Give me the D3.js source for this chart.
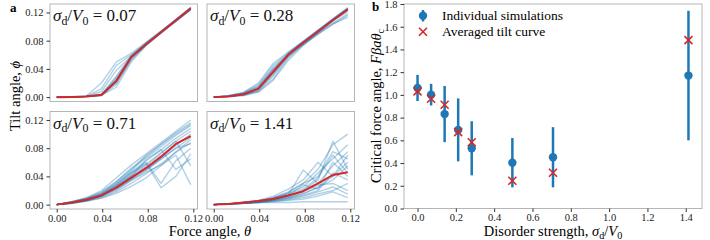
<!DOCTYPE html>
<html>
<head>
<meta charset="utf-8">
<script src="https://cdn.jsdelivr.net/npm/d3@7"></script>
<style>
    body { margin: 0; background: #fff; }
    svg { display: block; font-family: "Liberation Serif", "DejaVu Serif", serif; }
    .tick text { font-family: "Liberation Serif", "DejaVu Serif", serif; font-size: 10.5px; fill: #222; }
    .tick line { stroke: #333; }
</style>
</head>
<body>
<svg id="fig" width="710" height="240"></svg>
<script>
(function (window, d3) {
    "use strict";

    // force angle grid (0.75 deg steps, in rad)
    var thetaGrid = [0, 0.0131, 0.0262, 0.0393, 0.0524, 0.0655, 0.0786, 0.0917, 0.1047, 0.1178];
    var sigmaLabels = ["0.07", "0.28", "0.71", "1.41"];
    var tiltTicks = [0, 0.04, 0.08, 0.12];

    // averaged tilt curves
    var meanTilt007 = [0, 0.0003, 0.001, 0.003, 0.023, 0.057, 0.075, 0.092, 0.109, 0.126];
    var meanTilt028 = [0, 0.001, 0.004, 0.012, 0.036, 0.060, 0.077, 0.093, 0.109, 0.124];
    var meanTilt071 = [0, 0.003, 0.007, 0.013, 0.024, 0.038, 0.052, 0.068, 0.086, 0.097];
    var meanTilt141 = [0, 0.001, 0.003, 0.005, 0.008, 0.013, 0.019, 0.030, 0.042, 0.046];

    // individual simulations
    var runsTilt007 = [
        [0, 0, 0.001, 0.003, 0.024, 0.057, 0.075, 0.092, 0.108, 0.125],
        [0, 0, 0.001, 0.004, 0.030, 0.059, 0.076, 0.093, 0.109, 0.126],
        [0, 0, 0.001, 0.012, 0.045, 0.060, 0.077, 0.093, 0.110, 0.127],
        [0, 0, 0.002, 0.020, 0.050, 0.062, 0.078, 0.094, 0.110, 0.127],
        [0, 0, 0.001, 0.002, 0.018, 0.052, 0.074, 0.091, 0.108, 0.124],
        [0, 0, 0.001, 0.003, 0.014, 0.050, 0.073, 0.091, 0.107, 0.124],
        [0, 0, 0.001, 0.003, 0.026, 0.056, 0.075, 0.092, 0.109, 0.126],
        [0, 0, 0.001, 0.008, 0.038, 0.058, 0.076, 0.093, 0.109, 0.126],
        [0, 0, 0.001, 0.003, 0.022, 0.055, 0.075, 0.092, 0.108, 0.125],
        [0, 0, 0.001, 0.003, 0.028, 0.057, 0.076, 0.092, 0.109, 0.125],
        [0, 0, 0.001, 0.004, 0.020, 0.054, 0.074, 0.091, 0.108, 0.124],
        [0, 0, 0.001, 0.003, 0.024, 0.058, 0.076, 0.093, 0.110, 0.127]
    ];
    var runsTilt028 = [
        [0, 0.001, 0.004, 0.012, 0.036, 0.061, 0.078, 0.094, 0.110, 0.125],
        [0, 0.002, 0.007, 0.020, 0.048, 0.064, 0.079, 0.095, 0.111, 0.127],
        [0, 0.001, 0.003, 0.008, 0.026, 0.055, 0.075, 0.092, 0.109, 0.125],
        [0, 0.002, 0.006, 0.016, 0.042, 0.062, 0.078, 0.094, 0.110, 0.126],
        [0, 0.001, 0.003, 0.009, 0.030, 0.057, 0.074, 0.089, 0.103, 0.116],
        [0, 0.001, 0.005, 0.014, 0.040, 0.060, 0.076, 0.091, 0.105, 0.118],
        [0, 0.001, 0.003, 0.010, 0.032, 0.058, 0.077, 0.093, 0.109, 0.124],
        [0, 0.002, 0.006, 0.018, 0.045, 0.063, 0.079, 0.095, 0.111, 0.126],
        [0, 0.001, 0.004, 0.011, 0.034, 0.059, 0.075, 0.090, 0.104, 0.113],
        [0, 0.001, 0.004, 0.013, 0.038, 0.061, 0.078, 0.094, 0.110, 0.125],
        [0, 0.001, 0.002, 0.007, 0.024, 0.052, 0.073, 0.091, 0.108, 0.124],
        [0, 0.002, 0.005, 0.015, 0.040, 0.060, 0.077, 0.093, 0.108, 0.121]
    ];
    var runsTilt071 = [
        [0, 0.003, 0.007, 0.013, 0.025, 0.040, 0.055, 0.072, 0.090, 0.104],
        [0, 0.004, 0.009, 0.018, 0.033, 0.050, 0.066, 0.082, 0.098, 0.112],
        [0, 0.002, 0.005, 0.010, 0.018, 0.030, 0.044, 0.058, 0.074, 0.088],
        [0, 0.003, 0.008, 0.015, 0.030, 0.046, 0.062, 0.078, 0.094, 0.108],
        [0, 0.004, 0.010, 0.020, 0.038, 0.056, 0.072, 0.088, 0.104, 0.120],
        [0, 0.002, 0.006, 0.012, 0.022, 0.036, 0.050, 0.064, 0.080, 0.095],
        [0, 0.003, 0.007, 0.014, 0.027, 0.044, 0.060, 0.030, 0.062, 0.080],
        [0, 0.003, 0.006, 0.012, 0.024, 0.040, 0.064, 0.078, 0.050, 0.065],
        [0, 0.002, 0.005, 0.011, 0.020, 0.034, 0.046, 0.056, 0.070, 0.028],
        [0, 0.003, 0.008, 0.016, 0.030, 0.048, 0.070, 0.086, 0.102, 0.116],
        [0, 0.002, 0.006, 0.013, 0.026, 0.042, 0.057, 0.074, 0.090, 0.055],
        [0, 0.003, 0.007, 0.014, 0.027, 0.040, 0.050, 0.066, 0.084, 0.100],
        [0, 0.002, 0.005, 0.009, 0.016, 0.026, 0.038, 0.055, 0.075, 0.092],
        [0, 0.003, 0.007, 0.015, 0.028, 0.045, 0.058, 0.024, 0.040, 0.072],
        [0, 0.004, 0.009, 0.017, 0.032, 0.052, 0.068, 0.085, 0.100, 0.114],
        [0, 0.003, 0.006, 0.012, 0.022, 0.035, 0.048, 0.065, 0.080, 0.086]
    ];
    var runsTilt141 = [
        [0, 0.001, 0.002, 0.004, 0.006, 0.010, 0.015, 0.025, 0.040, 0.060],
        [0, 0.001, 0.003, 0.005, 0.009, 0.015, 0.022, 0.038, 0.070, 0.045],
        [0, 0.001, 0.002, 0.004, 0.007, 0.011, 0.018, 0.028, 0.030, 0.020],
        [0, 0.001, 0.003, 0.006, 0.010, 0.017, 0.030, 0.050, 0.085, 0.100],
        [0, 0.001, 0.002, 0.003, 0.005, 0.008, 0.012, 0.018, 0.025, 0.015],
        [0, 0.001, 0.003, 0.005, 0.008, 0.014, 0.049, 0.030, 0.055, 0.075],
        [0, 0.001, 0.002, 0.004, 0.006, 0.009, 0.013, 0.020, 0.045, 0.035],
        [0, 0.001, 0.002, 0.003, 0.004, 0.006, 0.008, 0.012, 0.018, 0.010],
        [0, 0.001, 0.003, 0.006, 0.012, 0.022, 0.035, 0.060, 0.040, 0.070],
        [0, 0.001, 0.002, 0.004, 0.007, 0.012, 0.020, 0.035, 0.090, 0.050],
        [0, 0.001, 0.002, 0.003, 0.005, 0.007, 0.010, 0.015, 0.020, 0.030],
        [0, 0.001, 0.002, 0.003, 0.003, 0.003, 0.004, 0.004, 0.004, 0.004],
        [0, 0.001, 0.003, 0.005, 0.009, 0.016, 0.025, 0.045, 0.065, 0.085],
        [0, 0.001, 0.002, 0.004, 0.006, 0.010, 0.016, 0.024, 0.035, 0.055],
        [0, 0.001, 0.002, 0.004, 0.008, 0.013, 0.028, 0.022, 0.060, 0.040],
        [0, 0.001, 0.003, 0.005, 0.010, 0.018, 0.030, 0.040, 0.075, 0.065]
    ];

    // panel b: critical force angle vs disorder
    var disorder = [0, 0.0707, 0.1414, 0.2121, 0.2828, 0.4950, 0.7071, 1.4142];
    var critMean = [1.061, 1.002, 0.831, 0.692, 0.530, 0.403, 0.451, 1.170];
    var critStd = [0.115, 0.095, 0.247, 0.277, 0.238, 0.217, 0.265, 0.570];
    var critAveraged = [1.031, 0.966, 0.913, 0.672, 0.583, 0.244, 0.315, 1.482];
    var critTicksX = [0, 0.2, 0.4, 0.6, 0.8, 1.0, 1.2, 1.4];
    var critTicksY = [0, 0.2, 0.4, 0.6, 0.8, 1.0, 1.2, 1.4, 1.6, 1.8];

    var BLUE = "#1f77b4", RED = "#d62728", FRAME = "#b5b5b5";
    var svg = d3.select("#fig");

    // 数学文字: [text, kind] kind = i 斜体, s 下标, u 回到基线
    function mathText(sel, parts, size) {
        parts.forEach(function (p) {
            var t = sel.append("tspan").text(p[0]);
            if (p[1] === "i") t.style("font-style", "italic");
            if (p[1] === "s") t.attr("dy", size * 0.22).style("font-size", (size * 0.7) + "px");
            if (p[1] === "u") t.attr("dy", -size * 0.22);
        });
        return sel;
    }

    function frame(g, w, h) {
        g.append("rect").attr("width", w).attr("height", h)
            .attr("fill", "none").attr("stroke", FRAME).attr("stroke-width", 1);
    }

    function styleAxis(g) {
        g.attr("font-family", null).attr("font-size", null);
        g.select(".domain").remove();
        g.selectAll(".tick line").attr("stroke", "#333");
    }

    // 面板 a
    var tiltPanels = [
        {runs: runsTilt007, mean: meanTilt007, label: sigmaLabels[0], x: 50, y: 4, left: true, bottom: false},
        {runs: runsTilt028, mean: meanTilt028, label: sigmaLabels[1], x: 207, y: 4, left: false, bottom: false},
        {runs: runsTilt071, mean: meanTilt071, label: sigmaLabels[2], x: 50, y: 111.5, left: true, bottom: true},
        {runs: runsTilt141, mean: meanTilt141, label: sigmaLabels[3], x: 207, y: 111.5, left: false, bottom: true}
    ];
    var pw = 147.5, ph = 97.5;
    var xTilt = d3.scaleLinear().domain([-0.0059, 0.1237]).range([0, pw]);
    var yTilt = d3.scaleLinear().domain([-0.0062, 0.1320]).range([ph, 0]);
    var tiltLine = d3.line()
        .x(function (d, i) { return xTilt(thetaGrid[i]); })
        .y(function (d) { return yTilt(d); });

    tiltPanels.forEach(function (p) {
        var g = svg.append("g").attr("transform", "translate(" + p.x + "," + p.y + ")");
        g.selectAll(".run").data(p.runs).enter().append("path").attr("class", "run")
            .attr("d", tiltLine).attr("fill", "none")
            .attr("stroke", BLUE).attr("stroke-opacity", 0.34).attr("stroke-width", 1.4)
            .attr("stroke-linejoin", "round");
        g.append("path").datum(p.mean).attr("d", tiltLine).attr("fill", "none")
            .attr("stroke", RED).attr("stroke-width", 2).attr("stroke-linejoin", "round");
        frame(g, pw, ph);

        var xa = g.append("g").attr("transform", "translate(0," + ph + ")")
            .call(d3.axisBottom(xTilt).tickValues(tiltTicks).tickSize(p.bottom ? 3.5 : 0)
                .tickPadding(2).tickFormat(p.bottom ? d3.format(".2f") : ""));
        styleAxis(xa);
        var ya = g.append("g")
            .call(d3.axisLeft(yTilt).tickValues(tiltTicks).tickSize(p.left ? 3.5 : 0)
                .tickPadding(3).tickFormat(p.left ? d3.format(".2f") : ""));
        styleAxis(ya);

        mathText(g.append("text").attr("x", 3).attr("y", 17).style("font-size", "17px").attr("fill", "#111"),
            [["σ", "i"], ["d", "s"], ["/", "u"], ["V", "i"], ["0", "s"], [" = " + p.label, "u"]], 17);
    });

    svg.append("text").attr("x", 10).attr("y", 12).style("font-weight", "bold").style("font-size", "13px").text("a");
    mathText(svg.append("text").attr("transform", "translate(20,96) rotate(-90)").attr("text-anchor", "middle")
        .style("font-size", "14.5px"), [["Tilt angle, ", "n"], ["ϕ", "i"]], 14.5);
    mathText(svg.append("text").attr("x", 210).attr("y", 236).attr("text-anchor", "middle")
        .style("font-size", "14.5px"), [["Force angle, ", "n"], ["θ", "i"]], 14.5);

    // 面板 b
    var bx = 404, by = 4, bw = 298, bh = 204.5;
    var xCrit = d3.scaleLinear().domain([-0.0707, 1.4849]).range([0, bw]);
    var yCrit = d3.scaleLinear().domain([0, 1.8]).range([bh, 0]);
    var gb = svg.append("g").attr("transform", "translate(" + bx + "," + by + ")");
    frame(gb, bw, bh);
    styleAxis(gb.append("g").attr("transform", "translate(0," + bh + ")")
        .call(d3.axisBottom(xCrit).tickValues(critTicksX).tickSize(3.5).tickPadding(2).tickFormat(d3.format(".1f"))));
    styleAxis(gb.append("g")
        .call(d3.axisLeft(yCrit).tickValues(critTicksY).tickSize(3.5).tickPadding(3).tickFormat(d3.format(".1f"))));

    var pts = disorder.map(function (x, i) {
        return {x: x, m: critMean[i], s: critStd[i], a: critAveraged[i]};
    });
    gb.selectAll(".err").data(pts).enter().append("line").attr("class", "err")
        .attr("x1", function (d) { return xCrit(d.x); }).attr("x2", function (d) { return xCrit(d.x); })
        .attr("y1", function (d) { return yCrit(d.m - d.s); }).attr("y2", function (d) { return yCrit(d.m + d.s); })
        .attr("stroke", BLUE).attr("stroke-width", 2.5);
    gb.selectAll(".dot").data(pts).enter().append("circle").attr("class", "dot")
        .attr("cx", function (d) { return xCrit(d.x); }).attr("cy", function (d) { return yCrit(d.m); })
        .attr("r", 4.2).attr("fill", BLUE);

    function cross(g, cx, cy, r) {
        g.append("path").attr("d", "M" + (cx - r) + "," + (cy - r) + "L" + (cx + r) + "," + (cy + r) +
            "M" + (cx - r) + "," + (cy + r) + "L" + (cx + r) + "," + (cy - r))
            .attr("stroke", RED).attr("stroke-width", 1.6).attr("fill", "none");
    }
    pts.forEach(function (d) { cross(gb, xCrit(d.x), yCrit(d.a), 4); });

    // 图例
    var lg = svg.append("g");
    lg.append("line").attr("x1", 423).attr("x2", 423).attr("y1", 10).attr("y2", 21.5)
        .attr("stroke", BLUE).attr("stroke-width", 2.5);
    lg.append("circle").attr("cx", 423).attr("cy", 15.7).attr("r", 4.2).attr("fill", BLUE);
    cross(lg, 423, 31.7, 4);
    lg.append("text").attr("x", 442).attr("y", 20).style("font-size", "13.5px").text("Individual simulations");
    lg.append("text").attr("x", 442).attr("y", 36).style("font-size", "13.5px").text("Averaged tilt curve");

    svg.append("text").attr("x", 372).attr("y", 11).style("font-weight", "bold").style("font-size", "13px").text("b");
    mathText(svg.append("text").attr("transform", "translate(381,106) rotate(-90)").attr("text-anchor", "middle")
        .style("font-size", "14.5px"), [["Critical force angle, ", "n"], ["Fβaθ", "i"], ["c", "s"]], 14.5);
    mathText(svg.append("text").attr("x", 553).attr("y", 236).attr("text-anchor", "middle")
        .style("font-size", "14.5px"), [["Disorder strength, ", "n"], ["σ", "i"], ["d", "s"], ["/", "u"], ["V", "i"], ["0", "s"]], 14.5);
})(window, d3);
</script>
</body>
</html>
